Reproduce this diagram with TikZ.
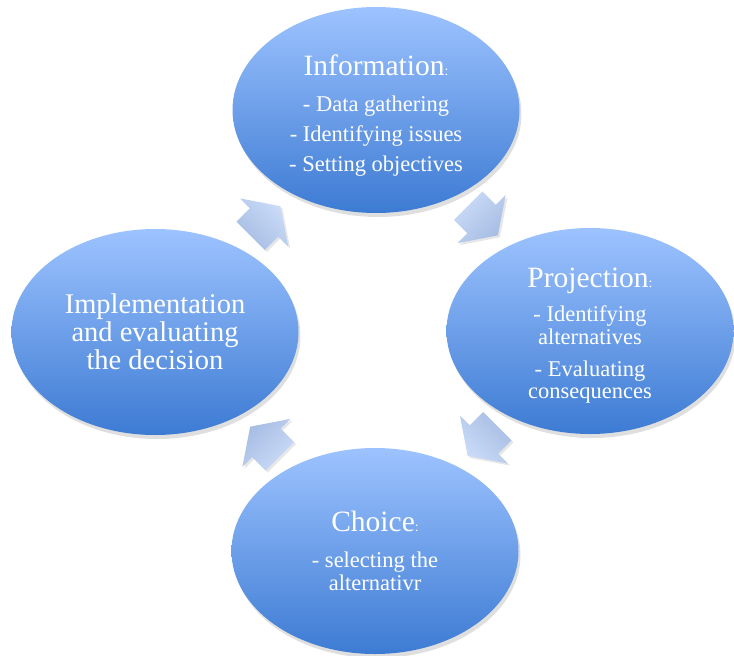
\documentclass[tikz,border=0pt]{standalone}
\usepackage{fontspec}
\setmainfont{Liberation Serif}
\usetikzlibrary{shapes.geometric,shadows,calc}

\definecolor{stagetop}{HTML}{9DC3FF}
\definecolor{stagebottom}{HTML}{3D7BD3}
\definecolor{arrowtop}{HTML}{CBDCF8}
\definecolor{arrowbottom}{HTML}{A6BCE3}

\newcommand{\headline}[1]{{\fontsize{29.5}{30}\selectfont #1}{\fontsize{14}{16}\selectfont :}}
\newcommand{\itemtext}{\fontsize{22.5}{22.5}\selectfont}

\begin{document}
\begin{tikzpicture}[x=1pt,y=-1pt,
  stage/.style={ellipse,minimum width=287pt,minimum height=206pt,inner sep=0pt,
    top color=stagetop,bottom color=stagebottom,text=white,align=center,font=\itemtext,
    drop shadow={opacity=0.25,shadow xshift=2pt,shadow yshift=-4pt}},
  cyclearrow/.style={top color=arrowtop,bottom color=arrowbottom,
    drop shadow={opacity=0.2,shadow xshift=2pt,shadow yshift=-2pt}}]

  \useasboundingbox (0,0) rectangle (734,656);

  \node [stage] at (376,110) (info) {\rule{0pt}{32pt}\headline{Information}\\[13.5pt]
    - Data gathering\\[7.5pt] - Identifying issues\\[7.5pt] - Setting objectives};
  \node [stage] at (590,331) (proj) {\rule{0pt}{29pt}\headline{Projection}\\[11.5pt]
    - Identifying\\ alternatives\\[9.5pt] - Evaluating\\ consequences};
  \node [stage] at (375,551) (choice) {\headline{Choice}\\[13.5pt]
    - selecting the\\ alternativr};
  \node [stage,font=\fontsize{28.5}{28}\selectfont] at (155,332) (impl) {Implementation\\ and evaluating\\ the decision};

  % block arrows half way between the stages
  \foreach \from/\to/\ang in {impl/info/45, info/proj/-45, proj/choice/-135, choice/impl/135}
    \shade [cyclearrow,shading angle=-\ang,shift={($(\from)!0.5!(\to)$)},rotate=\ang]
      (-21,-20) -- (-2,-20) -- (-2,-34) -- (21,0) -- (-2,34) -- (-2,20) -- (-21,20) -- cycle;

\end{tikzpicture}
\end{document}
